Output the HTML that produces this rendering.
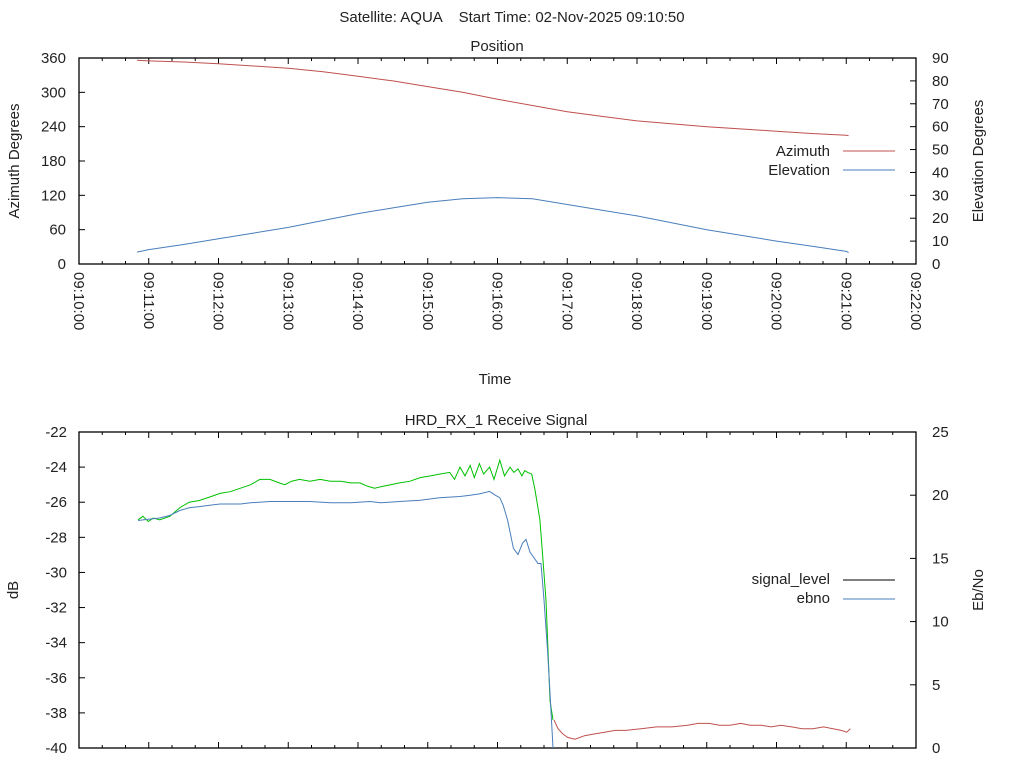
<!DOCTYPE html>
<html><head><meta charset="utf-8"><style>
html,body{margin:0;padding:0;background:#fff;}
svg{display:block;font-family:"Liberation Sans","DejaVu Sans",sans-serif;}
text{fill:#222;font-size:15px;}
</style></head><body>
<svg id="chart" width="1024" height="768" viewBox="0 0 1024 768" xmlns="http://www.w3.org/2000/svg">
<text x="512" y="22" text-anchor="middle" xml:space="preserve">Satellite: AQUA    Start Time: 02-Nov-2025 09:10:50</text>
<text x="497" y="51" text-anchor="middle">Position</text>
<text x="495" y="384" text-anchor="middle">Time</text>
<text x="496" y="425" text-anchor="middle">HRD_RX_1 Receive Signal</text>
<text transform="translate(19,161) rotate(-90)" text-anchor="middle">Azimuth Degrees</text>
<text transform="translate(983,161) rotate(-90)" text-anchor="middle">Elevation Degrees</text>
<text transform="translate(18,590) rotate(-90)" text-anchor="middle">dB</text>
<text transform="translate(983,590) rotate(-90)" text-anchor="middle">Eb/No</text>
<g id="topPlot"></g>
<g id="botPlot"></g>
</svg>
<script>
// Position data (seconds after 09:10:00)
const posT = [50,60,90,120,150,180,210,240,270,300,330,360,390,420,450,480,540,600,630,660,662];
const posAz = [356,355,353,350,346,342,336,328,320,310,300,288,277,266,258,250,240,232,228,225,224];
const posEl = [5.2,6.3,8.5,11,13.5,16,19,22,24.5,27,28.5,29,28.5,26,23.5,21,15,10,7.8,5.5,5];
const xTickLabels = ["09:10:00","09:11:00","09:12:00","09:13:00","09:14:00","09:15:00","09:16:00","09:17:00","09:18:00","09:19:00","09:20:00","09:21:00","09:22:00"];
const azTicks = [0,60,120,180,240,300,360];
const elTicks = [0,10,20,30,40,50,60,70,80,90];
// Signal data (seconds after 09:10:00)
const sigT = [50.8,55,59.6,64,69.4,78.2,87,94.8,103.6,112.4,121.3,130.1,138.9,147.7,155.5,164.3,172.1,177,182.9,189.7,198.6,207.4,216.2,225,233.8,241.6,248.5,254.3,261.2,268,275.9,284.7,293.5,302.3,310.1,318.9,323,327.7,332,336.5,340,344.4,348,353.2,357,362,366,370.8,374,377.6,381,383.5,386,389.4,392.3,396.5,399.1,401.7,403.4,405.2,407.7];
const sigDb = [-27.0,-26.8,-27.1,-26.9,-27.0,-26.8,-26.3,-26.0,-25.9,-25.7,-25.5,-25.4,-25.2,-25.0,-24.7,-24.7,-24.9,-25.0,-24.8,-24.7,-24.8,-24.7,-24.8,-24.8,-24.9,-24.9,-25.1,-25.2,-25.1,-25.0,-24.9,-24.8,-24.6,-24.5,-24.4,-24.3,-24.7,-24.0,-24.5,-23.9,-24.6,-23.8,-24.4,-24.0,-24.7,-23.6,-24.5,-24.0,-24.3,-24.1,-24.5,-24.2,-24.3,-24.4,-25.3,-27.0,-29.3,-31.6,-34.4,-37.3,-38.4];
const lowT = [408.6,412,416.3,420.6,426.7,434.8,443,452,461.2,470.5,483.5,496.9,510.2,523.5,532.6,541.9,551,560.1,569.3,577.4,586.5,595.6,603.8,613,622.1,631.3,640.5,648.6,655.7,660.5,663.5];
const lowDb = [-38.4,-38.9,-39.2,-39.4,-39.5,-39.3,-39.2,-39.1,-39.0,-39.0,-38.9,-38.8,-38.8,-38.7,-38.6,-38.6,-38.7,-38.7,-38.6,-38.7,-38.7,-38.8,-38.7,-38.8,-38.9,-38.9,-38.8,-38.9,-39.0,-39.1,-38.9];
const ebT = [50.8,59.6,69.4,78.2,87,94.8,103.6,112.4,121.3,130.1,138.9,147.7,164.3,181.9,198.6,216.2,233.8,250.4,259.2,275.9,293.5,310.1,327.7,336.5,344.4,353.2,358.1,362,364.9,368.8,373.7,377.6,381.5,384.5,388,394.8,397.4,400,403,405.5,407.7];
const ebVal = [18.0,18.1,18.2,18.4,18.8,19.0,19.1,19.2,19.3,19.3,19.3,19.4,19.5,19.5,19.5,19.4,19.4,19.5,19.4,19.5,19.6,19.8,19.9,20.0,20.1,20.3,20.0,19.8,19.2,18.0,15.8,15.3,16.2,16.5,15.5,14.6,14.6,11.7,7.8,3.8,0];
const sigYTicks = [-22,-24,-26,-28,-30,-32,-34,-36,-38,-40];
const ebTicks = [0,5,10,15,20,25];

const NS="http://www.w3.org/2000/svg";
function mk(parent,tag,attrs,txt){const e=document.createElementNS(NS,tag);for(const k in attrs)e.setAttribute(k,attrs[k]);if(txt!==undefined)e.textContent=txt;parent.appendChild(e);return e;}
const T={l:79,r:916,t:58,b:264};
const tx=s=>T.l+s/720*(T.r-T.l);
const tyAz=v=>T.b-v/360*(T.b-T.t);
const tyEl=v=>T.b-v/90*(T.b-T.t);
const topG=document.getElementById('topPlot');
const B={l:79,r:916,t:432,b:748};
const bx=s=>B.l+s/720*(B.r-B.l);
const byDb=v=>B.t+(-22-v)/18*(B.b-B.t);
const byEb=v=>B.b-v/25*(B.b-B.t);
const botG=document.getElementById('botPlot');

function frame(g,P,name){
  const r=mk(g,'rect',{x:P.l,y:P.t,width:P.r-P.l,height:P.b-P.t,fill:'none',stroke:'#000','stroke-width':1.3});
  
  
  for(let s=0;s<=720;s+=20){
    const x=P.l+s/720*(P.r-P.l);const L=(s%60===0)?6:3;
    const t1=mk(g,'line',{x1:x,x2:x,y1:P.b,y2:P.b-L,stroke:'#000'});
    
    
    const t2=mk(g,'line',{x1:x,x2:x,y1:P.t,y2:P.t+L,stroke:'#000'});
    
    
  }
}
function poly(g,xs,ys,fx,fy,color,name){
  const pts=xs.map((t,i)=>fx(t).toFixed(1)+','+fy(ys[i]).toFixed(1)).join(' ');
  const p=mk(g,'polyline',{points:pts,fill:'none',stroke:color,'stroke-width':1});
  
  
}
frame(topG,T,'position-plot-frame');
azTicks.forEach(v=>{const y=tyAz(v);
  const l=mk(topG,'line',{x1:T.l,x2:T.l+6,y1:y,y2:y,stroke:'#000'});
  
  
  const t=mk(topG,'text',{x:66,y:y+5,'text-anchor':'end'},String(v));
  
  
});
elTicks.forEach(v=>{const y=tyEl(v);
  const l=mk(topG,'line',{x1:T.r-6,x2:T.r,y1:y,y2:y,stroke:'#000'});
  
  
  const t=mk(topG,'text',{x:932,y:y+5},String(v));
  
  
});
xTickLabels.forEach((s,i)=>{const x=tx(i*60);
  const t=mk(topG,'text',{transform:`translate(${x-5},272) rotate(90)`},s);
  
  
});
poly(topG,posT,posAz,tx,tyAz,'#c0504d','azimuth-line');
poly(topG,posT,posEl,tx,tyEl,'#4a7ebb','elevation-line');
let lg=mk(topG,'text',{x:830,y:156,'text-anchor':'end'},'Azimuth');


lg=mk(topG,'line',{x1:843,x2:895,y1:151,y2:151,stroke:'#c0504d'});


lg=mk(topG,'text',{x:830,y:175,'text-anchor':'end'},'Elevation');


lg=mk(topG,'line',{x1:843,x2:895,y1:170,y2:170,stroke:'#4a7ebb'});



frame(botG,B,'signal-plot-frame');
sigYTicks.forEach(v=>{const y=byDb(v);
  const l=mk(botG,'line',{x1:B.l,x2:B.l+6,y1:y,y2:y,stroke:'#000'});
  
  
  const t=mk(botG,'text',{x:67,y:y+5,'text-anchor':'end'},String(v));
  
  
});
ebTicks.forEach(v=>{const y=byEb(v);
  const l=mk(botG,'line',{x1:B.r-6,x2:B.r,y1:y,y2:y,stroke:'#000'});
  
  
  const t=mk(botG,'text',{x:932,y:y+5},String(v));
  
  
});
poly(botG,sigT,sigDb,bx,byDb,'#00c000','signal-level-locked-line');
poly(botG,lowT,lowDb,bx,byDb,'#c0504d','signal-level-unlocked-line');
poly(botG,ebT,ebVal,bx,byEb,'#4a7ebb','ebno-line');
lg=mk(botG,'text',{x:830,y:584,'text-anchor':'end'},'signal_level');


lg=mk(botG,'line',{x1:843,x2:895,y1:580,y2:580,stroke:'#000'});


lg=mk(botG,'text',{x:830,y:603,'text-anchor':'end'},'ebno');


lg=mk(botG,'line',{x1:843,x2:895,y1:599,y2:599,stroke:'#4a7ebb'});


</script>
</body></html>
